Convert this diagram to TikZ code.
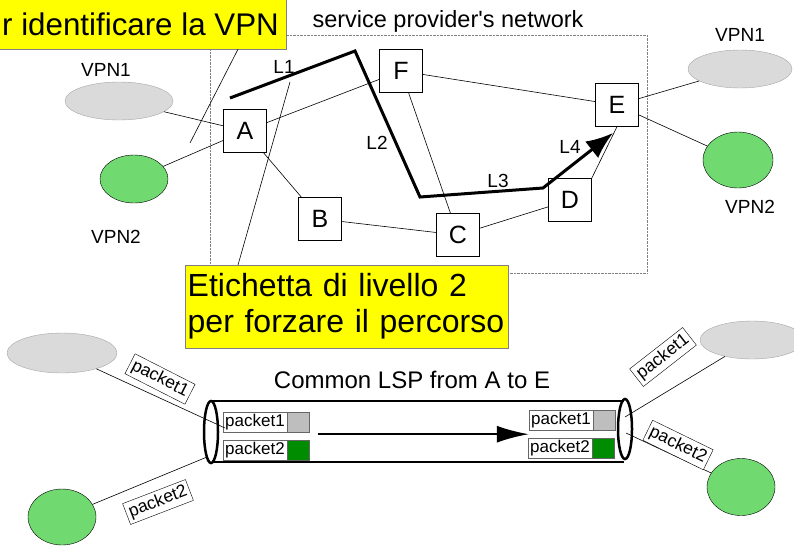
\documentclass[tikz,border=0pt]{standalone}
\usepackage{fontspec}
\setmainfont{Liberation Sans}
\newfontfamily\plainsans{Liberation Sans}
\usetikzlibrary{positioning,arrows.meta,shapes.geometric}
\definecolor{notebg}{RGB}{255,255,0}
\definecolor{vpngray}{RGB}{218,218,218}
\definecolor{vpngreen}{RGB}{112,218,112}
\definecolor{pktgray}{RGB}{190,190,190}
\definecolor{pktgreen}{RGB}{0,140,0}
\tikzset{%
	router/.style   = {draw, fill=white, rectangle, minimum size = 43pt,
		inner sep = 0pt, font = \fontsize{25}{30}\selectfont},
	vpngrey/.style  = {draw=gray!70, fill=vpngray, ellipse, inner sep = 0pt}, % VPN1 site
	vpngrn/.style   = {draw, fill=vpngreen, ellipse, inner sep = 0pt}, % VPN2 site
	note/.style     = {draw=gray, fill=notebg, rectangle, inner xsep = 5pt},
	lbl/.style      = {font = \fontsize{19}{22}\selectfont},
	link/.style     = {line width = 0.6pt},
	pkt/.style      = {draw=gray!80!black, fill=white, minimum width = 64pt,
		minimum height = 20pt, inner sep = 0pt, font = \fontsize{17}{20}\selectfont},
	pktcol/.style   = {draw=gray!80!black, minimum width = 22pt, minimum height = 20pt,
		inner sep = 0pt},
	tag/.style      = {draw, fill=white, inner sep = 3pt, font = \fontsize{17.5}{20}\selectfont}
}
\begin{document}
\begin{tikzpicture}[x=1pt,y=-1pt]
			\useasboundingbox (0,0) rectangle (794,547);
			% provider network
			\draw[gray, densely dotted] (210,35) rectangle (647,273);
			\node[anchor=base, font=\plainsans\fontsize{23.5}{28}\selectfont] (net) at (448,27) {service provider's network};
			
			\node[router] (A) at (245,131) {A};
			\node[router] (B) at (320,219) {B};
			\node[router] (C) at (458,235) {C};
			\node[router] (D) at (570,200) {D};
			\node[router] (E) at (617,105) {E};
			\node[router] (F) at (401,71) {F};
			
			\node[vpngrey, minimum width = 108pt, minimum height = 38pt] (v1l) at (119,101) {};
			\node[vpngrn, minimum width = 68pt, minimum height = 48pt] (v2l) at (134,179) {};
			\node[vpngrey, minimum width = 104pt, minimum height = 38pt] (v1r) at (740,69) {};
			\node[vpngrn, minimum width = 70pt, minimum height = 56pt] (v2r) at (738,160) {};
			\node[lbl] (t1l) at (106,70) {VPN1};
			\node[lbl] (t2l) at (116,237) {VPN2};
			\node[lbl] (t1r) at (740,35) {VPN1};
			\node[lbl] (t2r) at (750,207) {VPN2};
			
			\draw[link] (v1l) -- (A);
			\draw[link] (v2l) -- (A);
			\draw[link] (A) -- (F);
			\draw[link] (A) -- (B);
			\draw[link] (B) -- (C);
			\draw[link] (F) -- (C);
			\draw[link] (F) -- (E);
			\draw[link] (C) -- (D);
			\draw[link] (D.north east) -- (E.south);
			\draw[link] (E) -- (v1r);
			\draw[link] (E) -- (v2r);
			
			% forced path L1..L4
			\coordinate (p0) at (230,98);
			\coordinate (p1) at (355,51);
			\coordinate (p2) at (420,197);
			\coordinate (p3) at (543,188);
			\coordinate (p4) at (613,133);
			\draw[line width=3pt, -{Latex[length=27pt,width=21pt]}] (p0) -- (p1) -- (p2) -- (p3) -- (p4);
			\node[lbl] (L1) at (284,67) {L1};
			\node[lbl] (L2) at (377,143) {L2};
			\node[lbl] (L3) at (498,181) {L3};
			\node[lbl] (L4) at (570,147) {L4};
			
			% notes
			\node[note, anchor=base east, inner xsep = 7pt, text height = 52pt, text depth = 8pt,
				inner ysep = 6pt, font = \fontsize{31.3}{36}\selectfont] (topnote) at (286,35) {r identificare la VPN};
			\node[note, anchor=north west, text width = 318pt, align=left, inner xsep = 2.5pt, inner ysep = 8.5pt,
				font = \fontsize{32}{36}\selectfont] (botnote) at (185,265) {Etichetta di livello 2\\per forzare il percorso};
			\coordinate (c1) at (190,143);
			\coordinate (c2) at (290,82);
			\draw[link] (topnote.south -| 238,0) -- (c1);
			\draw[link] (botnote.north -| 238,0) -- (c2);
			
			% common LSP
			\node[anchor=base, font=\fontsize{24}{28}\selectfont] (lsp) at (412,388) {Common LSP from A to E};
			\draw[line width=2pt] (212,401) -- (624,401);
			\draw[line width=2pt] (212,462) -- (624,462);
			\draw[line width=2.5pt, fill=white] (211,432) ellipse (7 and 31);
			\draw[line width=2.5pt] (625,429) ellipse (7 and 30);
			
			\node[pkt] (p1l) at (255,422) {packet1};
			\node[pktcol, fill=pktgray, right=0pt of p1l] (c1l) {};
			\node[pkt] (p2l) at (255,450) {packet2};
			\node[pktcol, fill=pktgreen, right=0pt of p2l] (c2l) {};
			\node[pkt] (p1r) at (561,420) {packet1};
			\node[pktcol, fill=pktgray, right=0pt of p1r] (c1r) {};
			\node[pkt] (p2r) at (560,448) {packet2};
			\node[pktcol, fill=pktgreen, right=0pt of p2r] (c2r) {};
			\draw[line width=2pt, -{Latex[length=32pt,width=17pt]}] (c1l.south east) ++(8,2) coordinate (a0) -- (p1r.south west |- a0);
			
			\node[vpngrey, minimum width = 110pt, minimum height = 40pt] (s1l) at (62,353) {};
			\node[vpngrn, minimum width = 68pt, minimum height = 56pt] (s2l) at (62,517) {};
			\node[vpngrey, minimum width = 104pt, minimum height = 38pt] (s1r) at (752,340) {};
			\node[vpngrn, minimum width = 68pt, minimum height = 57pt] (s2r) at (741,487) {};
			\coordinate (e1l) at (225,428);
			\coordinate (e2l) at (207,457);
			\coordinate (e1r) at (625,417);
			\coordinate (e2r) at (626,433);
			\draw[link] (s1l) -- (e1l);
			\draw[link] (s2l) -- (e2l);
			\draw[link] (s1r) -- (e1r);
			\draw[link] (s2r) -- (e2r);
			\node[tag, rotate=-27] (g1l) at (160,379) {packet1};
			\node[tag, rotate=21] (g2l) at (158,502) {packet2};
			\node[tag, rotate=38] (g1r) at (663,357) {packet1};
			\node[tag, rotate=-26] (g2r) at (678,445) {packet2};
		\end{tikzpicture}
\end{document}
